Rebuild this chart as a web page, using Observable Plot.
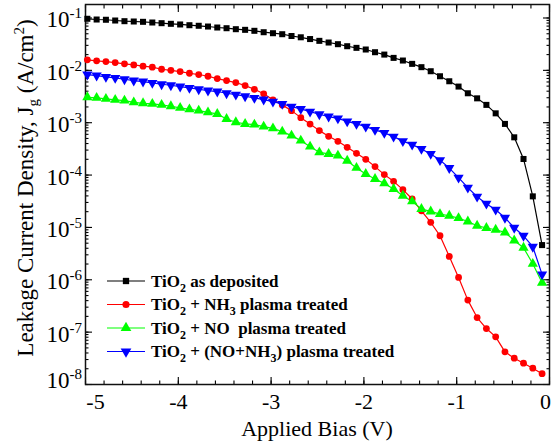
<!DOCTYPE html>
<html><head><meta charset="utf-8">
<script src="https://cdn.jsdelivr.net/npm/d3@7"></script>
<script src="https://cdn.jsdelivr.net/npm/@observablehq/plot@0.6"></script>
<style>
html,body{margin:0;padding:0;background:#fff;}
#chart{width:551px;height:445px;}
</style></head><body><div id="chart"></div>
<script>
// Applied bias (V)
const bias = [-4.98,-4.88,-4.78,-4.68,-4.58,-4.48,-4.38,-4.28,-4.18,-4.08,
  -3.98,-3.88,-3.78,-3.68,-3.58,-3.48,-3.38,-3.28,-3.18,-3.08,
  -2.98,-2.88,-2.78,-2.68,-2.58,-2.48,-2.38,-2.28,-2.18,-2.08,
  -1.98,-1.88,-1.78,-1.68,-1.58,-1.48,-1.38,-1.28,-1.18,-1.08,
  -0.98,-0.88,-0.78,-0.68,-0.58,-0.48,-0.38,-0.28,-0.18,-0.08];
// Leakage current density (A/cm^2)
const asDeposited = [0.0966,0.0935,0.0925,0.0895,0.0869,0.0857,0.0845,0.0820,0.0796,0.0774,
  0.0752,0.0728,0.0710,0.0687,0.0658,0.0638,0.0611,0.0594,0.0569,0.0535,
  0.0512,0.0490,0.0453,0.0428,0.0396,0.0366,0.0340,0.0316,0.0289,0.0269,
  0.0250,0.0222,0.0200,0.0173,0.0154,0.0133,0.0115,0.00962,0.00771,0.00619,
  0.00490,0.00365,0.00292,0.00219,0.00151,9.48e-4,5.26e-4,2.03e-4,3.92e-5,4.6e-6];
const nh3Treated = [0.0159,0.0152,0.0147,0.0141,0.0133,0.0127,0.0120,0.0115,0.0105,0.0100,
  0.00948,0.00881,0.00832,0.00771,0.00697,0.00638,0.00585,0.00512,0.00435,0.00356,
  0.00273,0.00219,0.00170,0.00125,9.40e-4,7.06e-4,5.50e-4,4.41e-4,3.39e-4,2.60e-4,
  2.00e-4,1.45e-4,1.02e-4,7.59e-5,5.26e-5,3.49e-5,2.08e-5,1.25e-5,6.93e-6,2.79e-6,
  1.11e-6,4.09e-7,1.90e-7,1.17e-7,8.13e-8,4.20e-8,3.18e-8,2.55e-8,2.05e-8,1.61e-8];
const noTreated = [0.00306,0.00298,0.00285,0.00273,0.00265,0.00245,0.00235,0.00229,0.00219,0.00206,
  0.00192,0.00180,0.00170,0.00158,0.00147,0.00118,0.00102,9.48e-4,9.20e-4,8.41e-4,
  7.82e-4,6.76e-4,5.66e-4,4.55e-4,3.49e-4,2.72e-4,2.53e-4,2.35e-4,1.88e-4,1.37e-4,
  1.05e-4,8.41e-5,6.93e-5,5.42e-5,4.04e-5,3.14e-5,2.25e-5,2.02e-5,1.80e-5,1.67e-5,
  1.51e-5,1.30e-5,1.08e-5,9.75e-6,9.04e-6,8.02e-6,5.64e-6,4.09e-6,2.02e-6,8.77e-7];
const noNh3Treated = [0.00832,0.00796,0.00752,0.00719,0.00676,0.00638,0.00611,0.00577,0.00542,0.00519,
  0.00490,0.00462,0.00435,0.00411,0.00394,0.00365,0.00344,0.00320,0.00298,0.00277,
  0.00253,0.00229,0.00203,0.00184,0.00163,0.00145,0.00131,0.00121,0.00106,9.48e-4,
  8.41e-4,7.28e-4,6.38e-4,5.42e-4,4.45e-4,3.81e-4,3.16e-4,2.53e-4,1.93e-4,1.36e-4,
  8.91e-5,5.74e-5,3.86e-5,2.84e-5,2.18e-5,1.53e-5,9.86e-6,6.93e-6,4.28e-6,1.27e-6];

const seriesNames = ["TiO2 as deposited","TiO2 + NH3 plasma treated","TiO2 + NO  plasma treated","TiO2 + (NO+NH3) plasma treated"];
const legendParts = [
  [["TiO"],["2","sub"],[" as deposited"]],
  [["TiO"],["2","sub"],[" + NH"],["3","sub"],[" plasma treated"]],
  [["TiO"],["2","sub"],[" + NO  plasma treated"]],
  [["TiO"],["2","sub"],[" + (NO+NH"],["3","sub"],[") plasma treated"]]
];
const seriesColors = ["#000000","#ff0000","#00ff00","#0000ff"];
const xTicks = [-5,-4,-3,-2,-1,0];
const yTickExponents = [-8,-7,-6,-5,-4,-3,-2,-1];

const triangleDown = {draw(ctx, size){
  const y = -Math.sqrt(size / (Math.sqrt(3) * 3));
  ctx.moveTo(0, -2 * y);
  ctx.lineTo(Math.sqrt(3) * y, y);
  ctx.lineTo(-Math.sqrt(3) * y, y);
  ctx.closePath();
}};
const seriesSymbols = [d3.symbolSquare, d3.symbolCircle, d3.symbolTriangle, triangleDown];
const seriesR = [3.4, 3.4, 3.8, 3.8];
const seriesValues = [asDeposited, nh3Treated, noTreated, noNh3Treated];

const W = 551, H = 445, mL = 85, mR = 2, mT = 4, mB = 61;
const serif = "'Liberation Serif','Times New Roman',serif";

const xMinor = d3.range(-5, 0.001, 0.2).map(v => +v.toFixed(1));
const yMajor = yTickExponents.map(e => Math.pow(10, e));
const yMinor = [];
yTickExponents.forEach(e => { for (let m = 1; m <= 9; m++) { const v = m * Math.pow(10, e); if (v <= 0.181) yMinor.push(v); } });

const seriesMarks = [];
seriesValues.forEach((vals, i) => {
  const data = bias.map((b, j) => ({bias: b, J: vals[j]}));
  seriesMarks.push(Plot.line(data, {x: "bias", y: "J", stroke: seriesColors[i], strokeWidth: 1.2}));
});
seriesValues.forEach((vals, i) => {
  const data = bias.map((b, j) => ({bias: b, J: vals[j]}));
  seriesMarks.push(Plot.dot(data, {x: "bias", y: "J", fill: seriesColors[i], stroke: "none", symbol: seriesSymbols[i], r: seriesR[i]}));
});

const xLabelShift = d => d === -5 ? 10 : d === 0 ? -4 : 0;

const plot = Plot.plot({
  width: W, height: H,
  marginLeft: mL, marginRight: mR, marginTop: mT, marginBottom: mB,
  style: {fontFamily: serif, background: "white", color: "black"},
  x: {domain: [-5, 0], label: null},
  y: {type: "log", domain: [1e-8, 0.181], label: null},
  marks: [
    Plot.axisX(xMinor, {anchor: "bottom", tickSize: -3.5, fill: "none", strokeWidth: 1.1}),
    Plot.axisX(xTicks, {anchor: "bottom", tickSize: -7, fill: "none", strokeWidth: 1.1}),
    Plot.axisX(xMinor, {anchor: "top", tickSize: -3.5, fill: "none", strokeWidth: 1.1}),
    Plot.axisX(xTicks, {anchor: "top", tickSize: -7, fill: "none", strokeWidth: 1.1}),
    Plot.axisX(xTicks.filter(d => xLabelShift(d) === 0), {anchor: "bottom", tickSize: 0, stroke: "none", tickPadding: 9, fontSize: 22, tickFormat: d => String(d)}),
    Plot.axisX([-5], {anchor: "bottom", tickSize: 0, stroke: "none", tickPadding: 9, fontSize: 22, dx: 10, tickFormat: d => String(d)}),
    Plot.axisX([0], {anchor: "bottom", tickSize: 0, stroke: "none", tickPadding: 9, fontSize: 22, dx: -4, tickFormat: d => String(d)}),
    Plot.axisY(yMinor, {anchor: "left", tickSize: -3.5, fill: "none", strokeWidth: 1.1}),
    Plot.axisY(yMajor, {anchor: "left", tickSize: -7, fill: "none", strokeWidth: 1.1}),
    Plot.axisY(yMinor, {anchor: "right", tickSize: -3.5, fill: "none", strokeWidth: 1.1}),
    Plot.axisY(yMajor, {anchor: "right", tickSize: -7, fill: "none", strokeWidth: 1.1}),
    Plot.frame({stroke: "#111", strokeWidth: 1.5}),
    ...seriesMarks
  ]
});
document.getElementById("chart").appendChild(plot);

const svg = d3.select(plot);
const yS = plot.scale("y");

// y tick labels 10^n
const gy = svg.append("g").attr("font-family", serif).attr("fill", "black");
yTickExponents.forEach(e => {
  const py = yS.apply(Math.pow(10, e)) + (e === -8 ? -6 : 0);
  const t = gy.append("text").attr("x", 82).attr("y", py + 10).attr("text-anchor", "end").attr("font-size", 23);
  t.append("tspan").text("10");
  t.append("tspan").attr("font-size", 15).attr("dy", -9).text(String(e));
});

// y axis label
const yl = svg.append("text")
  .attr("transform", `translate(33,${188}) rotate(-90)`)
  .attr("text-anchor", "middle").attr("font-family", serif).attr("font-size", 23).attr("fill", "black");
yl.append("tspan").text("Leakage Current Density, J");
yl.append("tspan").attr("font-size", 15).attr("dy", 5).text("g");
yl.append("tspan").attr("dy", -5).style("white-space", "pre").text(" (A/cm");
yl.append("tspan").attr("font-size", 15).attr("dy", -9).text("2");
yl.append("tspan").attr("dy", 9).text(")");

// x axis label
svg.append("text").attr("x", (mL + W - mR) / 2).attr("y", 436)
  .attr("text-anchor", "middle").attr("font-family", serif).attr("font-size", 22).attr("fill", "black")
  .text("Applied Bias (V)");

// legend
const lg = svg.append("g").attr("font-family", serif).attr("text-anchor", "start");
const rowY = [281, 304.5, 328, 351.5];
legendParts.forEach((parts, i) => {
  const y0 = rowY[i];
  lg.append("line").attr("x1", 107).attr("x2", 145).attr("y1", y0).attr("y2", y0)
    .attr("stroke", seriesColors[i]).attr("stroke-width", 1.2);
  lg.append("path").attr("transform", `translate(126,${y0})`)
    .attr("d", d3.symbol().type(seriesSymbols[i]).size(Math.PI * seriesR[i] * seriesR[i] * 1.1)())
    .attr("fill", seriesColors[i]);
  const t = lg.append("text").attr("x", 151).attr("y", y0 + 5.5).attr("font-size", 17)
    .attr("text-anchor", "start")
    .attr("font-weight", "bold").attr("fill", "black").style("white-space", "pre");
  let shifted = false;
  parts.forEach(p => {
    const ts = t.append("tspan").text(p[0]);
    if (p[1] === "sub") { ts.attr("font-size", 12).attr("dy", 5); shifted = true; }
    else if (shifted) { ts.attr("dy", -5); shifted = false; }
  });
});
</script>
</body></html>
